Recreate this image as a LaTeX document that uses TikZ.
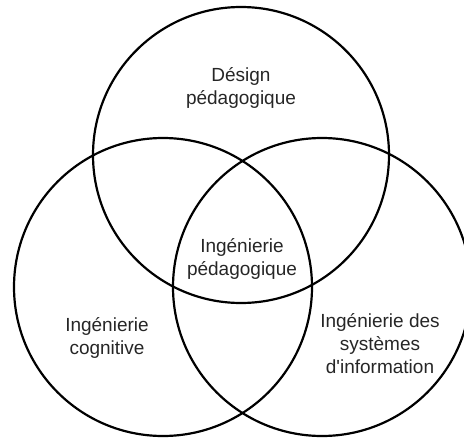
\documentclass[tikz,border=0pt]{standalone}
\usepackage{fontspec}
\setmainfont{Liberation Sans}
\begin{document}
\begin{tikzpicture}[x=1pt,y=-1pt,
  ring/.style={draw=black, line width=2.2pt, circle, inner sep=0pt},
  lbl/.style={align=center, inner sep=0pt, font=\fontsize{19pt}{23pt}\selectfont, text=black!85}]
\useasboundingbox (0,0) rectangle (464,439);
\node[ring, minimum size=296pt] (top) at (241,155) {};
\node[ring, minimum size=298pt] (left) at (163,287) {};
\node[ring, minimum size=298pt] (right) at (322,287) {};
\node[lbl] (design) at (241,87.5) {Désign\\pédagogique};
\node[lbl] (center) at (242,259) {Ingénierie\\pédagogique};
\node[lbl] (cog) at (107,338) {Ingénierie\\cognitive};
\node[lbl] (sys) at (380,343.5) {Ingénierie des\\systèmes\\d\textquotesingle information};
\end{tikzpicture}
\end{document}
